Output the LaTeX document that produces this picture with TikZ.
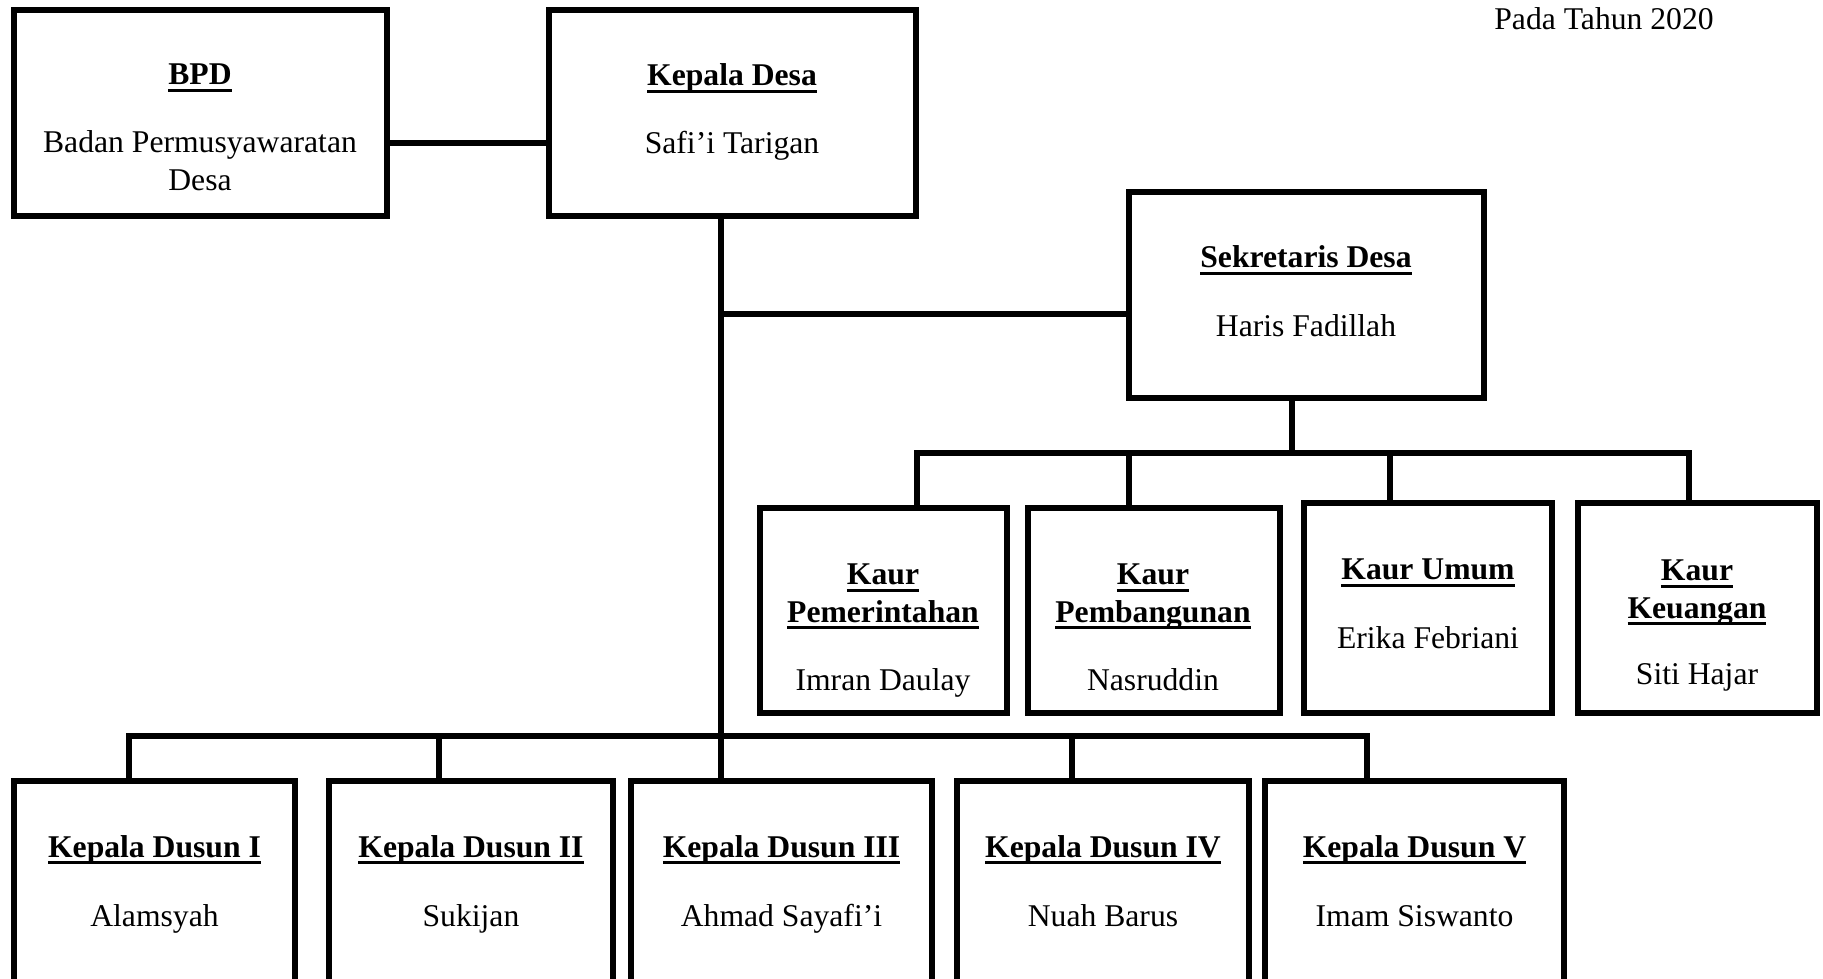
\documentclass[tikz,border=0pt]{standalone}
\usepackage{fontspec}
\setmainfont{Liberation Serif}
\newcommand{\uln}[1]{\setbox0\hbox{#1}\rlap{\rule[-2.1pt]{\wd0}{0.95pt}}\box0}

\begin{document}
\begin{tikzpicture}[
  x=0.01cm, y=-0.01cm,
  font=\fontsize{9}{10.5}\selectfont,
  box/.style={draw, line width=1.6pt, inner sep=0pt},
  e/.style={draw, line width=1.6pt},
  ttl/.style={font=\fontsize{9}{10.6}\selectfont\bfseries, align=center, anchor=base},
  nm/.style={font=\fontsize{9}{11}\selectfont, align=center, anchor=base},
]
\useasboundingbox (0,0) rectangle (1823,979);
\clip (0,0) rectangle (1823,979);

% ============ top row ============
\node[box, minimum width=3.73cm, minimum height=2.06cm] (bpd) at (200.5,113) {};
\node[ttl] (bpdT) at (200,85) {\uln{BPD}};
\node[nm] (bpdN) at (200,191) {Badan Permusyawaratan\\Desa};

\node[box, minimum width=3.67cm, minimum height=2.06cm] (kades) at (732.5,113) {};
\node[ttl] (kadesT) at (732,86) {\uln{Kepala Desa}};
\node[nm] (kadesN) at (732,154) {Safi'i Tarigan};

\node[nm] (tahun) at (1604,30) {Pada Tahun 2020};

% ============ sekretaris + kaur ============
\node[box, minimum width=3.55cm, minimum height=2.06cm] (sek) at (1306.5,295) {};
\node[ttl] (sekT) at (1306,268) {\uln{Sekretaris Desa}};
\node[nm] (sekN) at (1306,337) {Haris Fadillah};

\node[box, minimum width=2.47cm, minimum height=2.05cm] (kaur1) at (883.5,610.5) {};
\node[box, minimum width=2.52cm, minimum height=2.05cm] (kaur2) at (1154,610.5) {};
\node[box, minimum width=2.48cm, minimum height=2.10cm] (kaur3) at (1428,608) {};
\node[box, minimum width=2.39cm, minimum height=2.10cm] (kaur4) at (1697.5,608) {};

% two-line titles: base anchor sits on the last line
\node[ttl] (kaur1T) at (883,622) {\uln{Kaur}\\\uln{Pemerintahan}};
\node[nm]  (kaur1N) at (883,690) {Imran Daulay};
\node[ttl] (kaur2T) at (1153,622) {\uln{Kaur}\\\uln{Pembangunan}};
\node[nm]  (kaur2N) at (1153,690) {Nasruddin};
\node[ttl] (kaur3T) at (1428,580) {\uln{Kaur Umum}};
\node[nm]  (kaur3N) at (1428,648) {Erika Febriani};
\node[ttl] (kaur4T) at (1697,618) {\uln{Kaur}\\\uln{Keuangan}};
\node[nm]  (kaur4N) at (1697,685) {Siti Hajar};

% ============ kepala dusun ============
\node[box, minimum width=2.81cm, minimum height=3.19cm] (dus1) at (154.5,940.5) {};
\node[box, minimum width=2.84cm, minimum height=3.19cm] (dus2) at (471,940.5) {};
\node[box, minimum width=3.01cm, minimum height=3.19cm] (dus3) at (781.5,940.5) {};
\node[box, minimum width=2.92cm, minimum height=3.19cm] (dus4) at (1103,940.5) {};
\node[box, minimum width=2.99cm, minimum height=3.19cm] (dus5) at (1414.5,940.5) {};

\node[ttl] (dus1T) at (154.5,857) {\uln{Kepala Dusun I}};
\node[nm]  (dus1N) at (154.5,926) {Alamsyah};
\node[ttl] (dus2T) at (471,857) {\uln{Kepala Dusun II}};
\node[nm]  (dus2N) at (471,926) {Sukijan};
\node[ttl] (dus3T) at (781.5,857) {\uln{Kepala Dusun III}};
\node[nm]  (dus3N) at (781.5,926) {Ahmad Sayafi'i};
\node[ttl] (dus4T) at (1103,857) {\uln{Kepala Dusun IV}};
\node[nm]  (dus4N) at (1103,926) {Nuah Barus};
\node[ttl] (dus5T) at (1414.5,857) {\uln{Kepala Dusun V}};
\node[nm]  (dus5N) at (1414.5,926) {Imam Siswanto};

% ============ connectors ============
\coordinate (bk) at (450,143);
\coordinate (sj) at (721,314);
\coordinate (ks) at (1292,453);
\coordinate (k1) at (917,453);
\coordinate (k2) at (1129,453);
\coordinate (k3) at (1390,453);
\coordinate (k4) at (1689,453);
\coordinate (d1) at (129,736);
\coordinate (d2) at (439,736);
\coordinate (d3) at (721,736);
\coordinate (d4) at (1072,736);
\coordinate (d5) at (1367,736);

\draw[e] (bpd.east |- bk) -- (kades.west |- bk);
\draw[e] (kades.south -| d3) -- (d3);
\draw[e] (sj) -- (sek.west |- sj);
\draw[e] (sek.south -| ks) -- (ks);
\draw[e] (kaur1.north -| k1) -- (k1) -- (k4) -- (kaur4.north -| k4);
\draw[e] (k2) -- (kaur2.north -| k2);
\draw[e] (k3) -- (kaur3.north -| k3);
\draw[e] (dus1.north -| d1) -- (d1) -- (d5) -- (dus5.north -| d5);
\foreach \i in {2,3,4}
  \draw[e] (d\i) -- (dus\i.north -| d\i);

\end{tikzpicture}
\end{document}
